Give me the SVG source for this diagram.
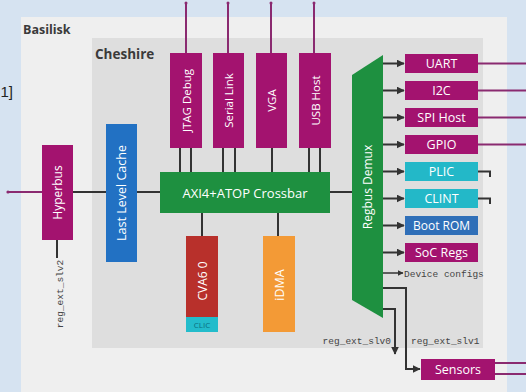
<svg xmlns="http://www.w3.org/2000/svg" width="526" height="392" viewBox="0 0 526 392">
<defs>
<marker id="ah" viewBox="0 0 6 6" refX="5.5" refY="3" markerWidth="4" markerHeight="4" orient="auto"><path d="M0,0 L6,3 L0,6 z" fill="#333"/></marker>
<style>
.lbl{font-family:"Open Sans","Liberation Sans",sans-serif;fill:#fff;text-anchor:middle;dominant-baseline:central}
.ttl{font-family:"Open Sans","Liberation Sans",sans-serif;font-weight:bold;fill:#3a3a3a}
.mono{font-family:"Liberation Mono","DejaVu Sans Mono",monospace;font-size:9.5px;fill:#444}
.mag{fill:#a3136f}
.ln{stroke:#333;stroke-width:2;fill:none}
.lm{stroke:#8a2a70;stroke-width:2;fill:none}
</style>
</defs>
<rect x="0" y="0" width="526" height="392" fill="#d6e3f1"/>
<text x="13" y="97" text-anchor="end" font-family="Liberation Sans,sans-serif" font-size="15" fill="#222">1]</text>
<g id="basilisk"><rect x="21" y="17" width="486" height="375" fill="#efefef"/><text class="ttl" x="23" y="34" font-size="12.5">Basilisk</text></g>
<g id="cheshire"><rect x="92" y="38" width="391" height="310" fill="#dedede"/><text class="ttl" x="95" y="59" font-size="13.5">Cheshire</text></g>
<g id="connectors">
<path class="lm" d="M8,192 H42"/><circle cx="8" cy="192" r="1.6" fill="#8a2a70"/>
<path class="ln" d="M73,192 H106 M137,192 H160 M330,192 H352"/>
<path class="ln" d="M57,240 V258"/>
<path class="lm" d="M186,3 V53 M228,3 V53 M271,3 V53 M314,3 V53"/>
<circle cx="186" cy="3" r="1.5" fill="#8a2a70"/><circle cx="228" cy="3" r="1.5" fill="#8a2a70"/><circle cx="271" cy="3" r="1.5" fill="#8a2a70"/><circle cx="314" cy="3" r="1.5" fill="#8a2a70"/>
<path class="ln" d="M180,148 V172 M191,148 V172 M223,148 V172 M235,148 V172 M272,148 V172 M309,148 V172 M320,148 V172"/>
<path class="ln" d="M202,213 V236 M278,213 V236"/>
<g class="ln" marker-end="url(#ah)">
<path d="M383,63.5 H404"/><path d="M383,90.5 H404"/><path d="M383,117.5 H404"/><path d="M383,144.5 H404"/>
<path d="M383,171.5 H404"/><path d="M383,198.5 H404"/><path d="M383,225.5 H404"/><path d="M383,252.5 H404"/>
<path d="M383,273 H403" stroke-width="1.5"/>
<path d="M383,309 H395 V354"/>
<path d="M383,288 H406 V369 H420"/>
</g>
<path class="lm" d="M478,63.5 H526 M478,90.5 H526 M478,117.5 H526 M478,144.5 H526 M495,363 H526 M495,374 H526"/>
<path class="ln" stroke-width="1.5" d="M478,171.5 H490 V177 M478,198.5 H490 V204"/>
</g>
<g id="hyperbus"><rect class="mag" x="42" y="145" width="31" height="95"/><text class="lbl" transform="translate(57.5,192.5) rotate(-90)" font-size="12">Hyperbus</text></g>
<text class="mono" transform="translate(60,294) rotate(-90)" text-anchor="middle" dominant-baseline="central">reg_ext_slv2</text>
<g id="llc"><rect x="106" y="124" width="31" height="138" fill="#2271c3"/><text class="lbl" transform="translate(121.5,193) rotate(-90)" font-size="12.5">Last Level Cache</text></g>
<g id="jtag"><rect class="mag" x="170" y="53" width="32" height="95"/><text class="lbl" transform="translate(186,100.5) rotate(-90)" font-size="11.5">JTAG Debug</text></g>
<g id="serial"><rect class="mag" x="213" y="53" width="31" height="95"/><text class="lbl" transform="translate(228.5,100.5) rotate(-90)" font-size="11.5">Serial Link</text></g>
<g id="vga"><rect class="mag" x="256" y="53" width="31" height="95"/><text class="lbl" transform="translate(271.5,100.5) rotate(-90)" font-size="11.5">VGA</text></g>
<g id="usb"><rect class="mag" x="299" y="53" width="32" height="95"/><text class="lbl" transform="translate(315,100.5) rotate(-90)" font-size="11.5">USB Host</text></g>
<g id="xbar"><rect x="160" y="172" width="170" height="41" fill="#1e9040"/><text class="lbl" x="245" y="192.5" font-size="13">AXI4+ATOP Crossbar</text></g>
<g id="cva6"><rect x="186" y="236" width="32" height="81" fill="#b8302b"/><text class="lbl" transform="translate(202,281) rotate(-90)" font-size="12">CVA6 0</text></g>
<g id="clic"><rect x="186" y="317" width="32" height="15" fill="#23bccb"/><text class="lbl" x="202" y="324.5" font-size="8" fill="#0b6f80" style="fill:#0b6f80">CLIC</text></g>
<g id="idma"><rect x="263" y="236" width="32" height="96" fill="#f39a36"/><text class="lbl" transform="translate(279,285) rotate(-90)" font-size="12.5">iDMA</text></g>
<g id="demux"><polygon points="352,75 383,55 383,318 352,300" fill="#1e9040"/><text class="lbl" transform="translate(367.5,187) rotate(-90)" font-size="12">Regbus Demux</text></g>
<g id="uart"><rect class="mag" x="405" y="54" width="73" height="19"/><text class="lbl" x="441.5" y="63.5" font-size="12.5">UART</text></g>
<g id="i2c"><rect class="mag" x="405" y="81" width="73" height="19"/><text class="lbl" x="441.5" y="90.5" font-size="12.5">I2C</text></g>
<g id="spi"><rect class="mag" x="405" y="108" width="73" height="19"/><text class="lbl" x="441.5" y="117.5" font-size="12.5">SPI Host</text></g>
<g id="gpio"><rect class="mag" x="405" y="135" width="73" height="19"/><text class="lbl" x="441.5" y="144.5" font-size="12.5">GPIO</text></g>
<g id="plic"><rect x="405" y="162" width="73" height="19" fill="#23b8c8"/><text class="lbl" x="441.5" y="171.5" font-size="12.5">PLIC</text></g>
<g id="clint"><rect x="405" y="189" width="73" height="19" fill="#23b8c8"/><text class="lbl" x="441.5" y="198.5" font-size="12.5">CLINT</text></g>
<g id="bootrom"><rect x="405" y="216" width="73" height="19" fill="#2f6fb8"/><text class="lbl" x="441.5" y="225.5" font-size="12">Boot ROM</text></g>
<g id="socregs"><rect class="mag" x="405" y="243" width="73" height="19"/><text class="lbl" x="441.5" y="252.5" font-size="12.5">SoC Regs</text></g>
<text class="mono" x="404" y="276.5" font-size="10">Device configs</text>
<text class="mono" x="391" y="344" text-anchor="end">reg_ext_slv0</text>
<text class="mono" x="411" y="344">reg_ext_slv1</text>
<g id="sensors"><rect class="mag" x="421" y="359" width="74" height="21"/><text class="lbl" x="458" y="369.5" font-size="12.5">Sensors</text></g>
</svg>
